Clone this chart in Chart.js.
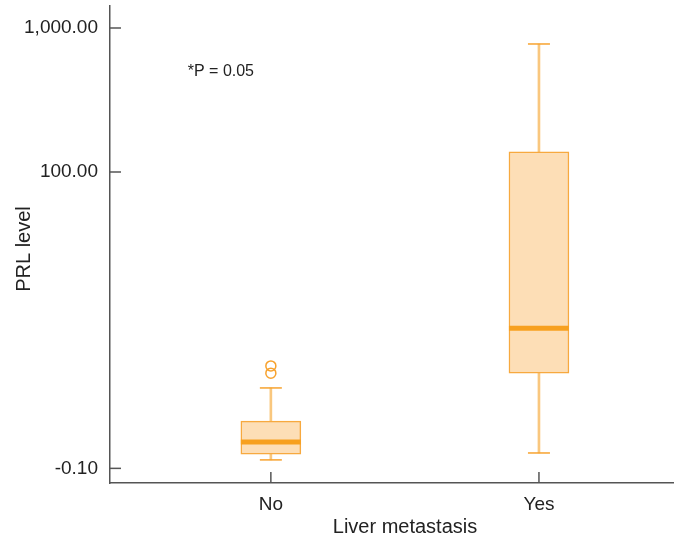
<!DOCTYPE html>
<html>
<head>
<meta charset="utf-8">
<script src="https://cdn.jsdelivr.net/npm/chart.js@4"></script>
<style>
  html, body { margin: 0; padding: 0; background: #fff; }
  #wrap { width: 678px; height: 541px; }
</style>
</head>
<body>
<div id="wrap"><canvas id="chart"></canvas></div>
<script>
// box plot values (PRL)
const groups = ['No', 'Yes'];
const groupX = [1, 2];
const whiskerLow = [0.03, 0.15];
const q1 = [0.13, 3.1];
const median = [0.37, 7.4];
const q3 = [0.91, 138];
const whiskerHigh = [2.24, 775];
const outliersNo = [3.1, 3.6];
const yTicks = [-0.10, 100, 1000];
const yTickLabels = ['-0.10', '100.00', '1,000.00'];
const pNote = '*P = 0.05';

const FONT = "'Liberation Sans', Arial, sans-serif";
const ORANGE = '#F7A22E';
const toAxis = v => Math.log10(v + 1);

const pts = arr => arr.map((v, i) => ({ x: groupX[i], y: toAxis(v) }));

const extras = {
  id: 'extras',
  afterDraw (chart) {
    const { ctx, chartArea, scales: { x, y } } = chart;
    ctx.save();
    ctx.strokeStyle = '#555';
    ctx.lineWidth = 1.5;
    // inward tick marks
    y.ticks.forEach(t => {
      const py = y.getPixelForValue(t.value);
      ctx.beginPath();
      ctx.moveTo(chartArea.left, py);
      ctx.lineTo(chartArea.left + 11, py);
      ctx.stroke();
    });
    x.ticks.forEach(t => {
      const px = x.getPixelForValue(t.value);
      ctx.beginPath();
      ctx.moveTo(px, chartArea.bottom);
      ctx.lineTo(px, chartArea.bottom - 11);
      ctx.stroke();
    });
    ctx.fillStyle = '#222';
    ctx.font = `16px ${FONT}`;
    ctx.textAlign = 'left';
    ctx.textBaseline = 'middle';
    ctx.fillText(pNote, x.getPixelForValue(0.69), y.getPixelForValue(2.70));

    ctx.font = `20px ${FONT}`;
    ctx.textAlign = 'center';
    ctx.fillText('Liver metastasis', 405, 527);
    ctx.translate(24, 249);
    ctx.rotate(-Math.PI / 2);
    ctx.fillText('PRL level', 0, 0);
    ctx.restore();
  }
};

new Chart(document.getElementById('chart'), {
  type: 'bar',
  data: {
    datasets: [
      {
        label: 'outliers',
        type: 'line',
        showLine: false,
        data: outliersNo.map(v => ({ x: groupX[0], y: toAxis(v) })),
        pointStyle: 'circle',
        pointRadius: 5,
        pointBackgroundColor: 'rgba(255,255,255,0)',
        pointBorderColor: ORANGE,
        pointBorderWidth: 1.5,
        order: 0
      },
      {
        label: 'median',
        type: 'line',
        showLine: false,
        data: pts(median),
        pointStyle: 'line',
        pointRadius: 30,
        pointBorderColor: '#F7A01F',
        pointBorderWidth: 5,
        order: 1
      },
      {
        label: 'cap high',
        type: 'line',
        showLine: false,
        data: pts(whiskerHigh),
        pointStyle: 'line',
        pointRadius: 11,
        pointBorderColor: ORANGE,
        pointBorderWidth: 1.5,
        order: 1
      },
      {
        label: 'cap low',
        type: 'line',
        showLine: false,
        data: pts(whiskerLow),
        pointStyle: 'line',
        pointRadius: 11,
        pointBorderColor: ORANGE,
        pointBorderWidth: 1.5,
        order: 1
      },
      {
        label: 'box',
        data: groupX.map((gx, i) => ({ x: gx, y: [toAxis(q1[i]), toAxis(q3[i])] })),
        backgroundColor: '#FDDEB6',
        borderColor: '#F7A93F',
        borderWidth: 1.5,
        borderSkipped: false,
        barThickness: 60,
        grouped: false,
        order: 2
      },
      {
        label: 'whisker',
        data: groupX.map((gx, i) => ({ x: gx, y: [toAxis(whiskerLow[i]), toAxis(whiskerHigh[i])] })),
        backgroundColor: '#F9C77E',
        borderWidth: 0,
        barThickness: 2,
        grouped: false,
        order: 3
      }
    ]
  },
  options: {
    responsive: true,
    maintainAspectRatio: false,
    devicePixelRatio: 1,
    animation: false,
    layout: { autoPadding: false, padding: { top: 6, right: 5, left: 0, bottom: 0 } },
    scales: {
      x: {
        type: 'linear',
        offset: false,
        min: 0.4,
        max: 2.5,
        afterBuildTicks: scale => { scale.ticks = groupX.map(v => ({ value: v })); },
        afterFit: scale => { scale.height = 58; scale.paddingLeft = 0; scale.paddingRight = 0; },
        ticks: {
          callback: (v, i) => groups[i],
          font: { family: FONT, size: 19 },
          color: '#222',
          padding: 10,
          maxRotation: 0
        },
        grid: { display: false, drawTicks: false },
        border: { display: true, color: '#555', width: 1.5 }
      },
      y: {
        type: 'linear',
        min: -0.147,
        max: 3.1526,
        afterBuildTicks: scale => { scale.ticks = yTicks.map(v => ({ value: toAxis(v) })); },
        afterFit: scale => { scale.width = 110; scale.paddingTop = 0; scale.paddingBottom = 0; },
        ticks: {
          callback: (v, i) => yTickLabels[i],
          font: { family: FONT, size: 19 },
          color: '#222',
          padding: 12
        },
        grid: { display: false, drawTicks: false },
        border: { display: true, color: '#555', width: 1.5 }
      }
    },
    plugins: {
      legend: { display: false },
      tooltip: { enabled: false }
    }
  },
  plugins: [extras]
});
</script>
</body>
</html>
